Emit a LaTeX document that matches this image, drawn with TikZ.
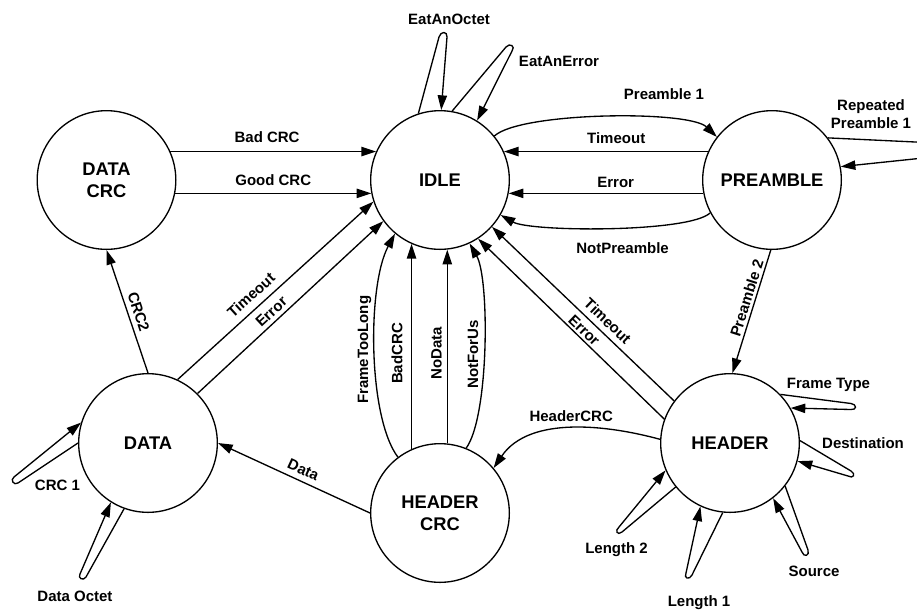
\documentclass[tikz,border=0pt]{standalone}
\usepackage{fontspec}
\setmainfont{Liberation Sans}
\usetikzlibrary{arrows.meta}
\tikzset{
  statenode/.style={draw, circle, line width=1pt, minimum size=104pt, inner sep=0pt, align=center, font=\bfseries\fontsize{13.75}{16.5}\selectfont},
  trans/.style={line width=1pt, -{Triangle[length=11pt,width=7pt]}},
  loopline/.style={trans, rounded corners=2.5pt},
  tlabel/.style={font=\bfseries\fontsize{11.25}{13.5}\selectfont, inner sep=1.5pt, align=center},
}
\begin{document}
\begin{tikzpicture}[x=0.75pt,y=0.75pt,yscale=-1,xscale=1]
\useasboundingbox (0,0) rectangle (917,612);
\clip (0,0) rectangle (917,612);

%Shape: Circle
\node[statenode] (datacrc) at (106.5,180) {DATA\\CRC};
%Shape: Circle
\node[statenode] (idle) at (440,180) {IDLE};
%Shape: Circle
\node[statenode] (preamble) at (772,180) {PREAMBLE};
%Shape: Circle
\node[statenode] (data) at (148,443) {DATA};
%Shape: Circle
\node[statenode] (headercrc) at (440,513) {HEADER\\CRC};
%Shape: Circle
\node[statenode] (header) at (730,443) {HEADER};

%Straight Lines
\draw[trans] (datacrc.24) -- node[tlabel, above=4.8pt, pos=0.47] (lbadcrc) {Bad CRC} (idle.156);
\draw[trans] (datacrc.-11) -- node[tlabel, above=3.5pt] (lgoodcrc) {Good CRC} (idle.191);
\draw[trans] (preamble.156) -- node[tlabel, above=4pt, pos=0.45] (ltimeoutp) {Timeout} (idle.24);
\draw[trans] (preamble.191) -- node[tlabel, above=2.2pt, pos=0.45] (lerrorp) {Error} (idle.-11);
%Curve Lines
\draw[trans] (idle.39) .. controls +(26,-24) and +(-28,-27) .. node[tlabel, above=13.5pt, pos=0.71] (lpreamble1) {Preamble 1} (preamble.142);
%Curve Lines
\draw[trans] (preamble.208) .. controls +(-21,20) and +(30,17) .. node[tlabel, below=9.5pt, pos=0.45] (lnotpreamble) {NotPreamble} (idle.-30);

%Straight Lines
\draw[trans] (preamble.-91) -- node[tlabel, rotate=72.4, anchor=south, inner sep=1.9pt, pos=0.41] (lpreamble2) {Preamble 2} (header.88);
\draw[trans] (header.143) -- node[tlabel, rotate=-43.6, anchor=south, inner sep=4.2pt, pos=0.41] (ltimeouth) {Timeout} (idle.-42);
\draw[trans] (header.160) -- node[tlabel, rotate=-43.6, anchor=south, inner sep=1.6pt, pos=0.46] (lerrorh) {Error} (idle.-57);
\draw[trans] (data.65) -- node[tlabel, rotate=42.2, anchor=south, inner sep=5.3pt, pos=0.42] (ltimeoutd) {Timeout} (idle.-162);
\draw[trans] (data.45) -- node[tlabel, rotate=42.8, anchor=south, inner sep=2.9pt, pos=0.433] (lerrord) {Error} (idle.-144);
\draw[trans] (data.north) -- node[tlabel, rotate=-71.7, anchor=south, inner sep=3.5pt, pos=0.47] (lcrc2) {CRC2} (datacrc.south);
\draw[trans] (headercrc.west) -- node[tlabel, rotate=-24.7, anchor=south, inner sep=4.2pt, pos=0.47] (ldata) {Data} (data.east);

%Curve Lines
\draw[trans] (headercrc.127) .. controls +(-30,-40) and +(-28,52) .. node[tlabel, rotate=90, anchor=south, inner sep=2.1pt, pos=0.5] (lframetoolong) {FrameTooLong} (idle.-130);
\draw[trans] (headercrc.114) -- node[tlabel, rotate=90, anchor=south, inner sep=6.2pt, pos=0.466] (lbadcrcv) {BadCRC} (idle.-114);
\draw[trans] (headercrc.84) -- node[tlabel, rotate=90, anchor=south, inner sep=3.75pt, pos=0.466] (lnodata) {NoData} (idle.-84);
\draw[trans] (headercrc.68) .. controls +(23,-32) and +(20,35) .. node[tlabel, rotate=90, anchor=south, inner sep=3.75pt, pos=0.47] (lnotforus) {NotForUs} (idle.-65);
%Curve Lines
\draw[trans] (header.177) .. controls +(-51,-14) and +(36,-53) .. node[tlabel, above=3.4pt, pos=0.5] (lheadercrc) {HeaderCRC} (headercrc.40);

%Loops
\draw[trans] (idle.108) -- (439,37) .. controls (440.6,31) and (447.5,31) .. (447,37) -- (idle.89);
\draw[trans] (idle.80) -- (506,47) .. controls (509.8,42.4) and (515.8,46.4) .. (512,51) -- (idle.58);
\draw[loopline] (preamble.37) -- (1000,146) -- (1000,150) -- (preamble.11);
\draw[trans] (data.west) -- (18,483) .. controls (13.9,485.8) and (9.8,479.8) .. (14,477) -- (data.163);
\draw[trans] (data.-110) -- (86,577) .. controls (83.4,581.3) and (77.4,578.3) .. (80,574) -- (data.-122);
\draw[trans] (header.44) -- (851,403.5) .. controls (857,404.2) and (857,410.2) .. (851,409.5) -- (header.30);
\draw[trans] (header.2) -- (851,471) .. controls (856.2,474.1) and (853.2,479.1) .. (848,476) -- (header.-15);
\draw[trans] (header.-38) -- (808,550) .. controls (809.9,555.7) and (803.9,557.7) .. (802,552) -- (header.-52);
\draw[trans] (header.-96) -- (692,575) .. controls (689.4,580.4) and (683.4,578.4) .. (686,573) -- (header.-115);
\draw[trans] (header.-141) -- (622,532) .. controls (617.4,535.8) and (614.4,530.8) .. (619,527) -- (header.-157);

% Text Node
\node[tlabel] (leatoctet) at (449,19) {EatAnOctet};
% Text Node
\node[tlabel] (leaterror) at (559,61) {EatAnError};
% Text Node
\node[tlabel] (lrepeated) at (871,114) {Repeated\\Preamble 1};
% Text Node
\node[tlabel] (lcrc1) at (57.5,485) {CRC 1};
% Text Node
\node[tlabel] (ldataoctet) at (75,596) {Data Octet};
% Text Node
\node[tlabel] (lframetype) at (828.5,385) {Frame Type};
% Text Node
\node[tlabel] (ldestination) at (863,443.5) {Destination};
% Text Node
\node[tlabel] (lsource) at (814,571.5) {Source};
% Text Node
\node[tlabel] (llength1) at (699,602.5) {Length 1};
% Text Node
\node[tlabel] (llength2) at (616.5,550) {Length 2};
\end{tikzpicture}
\end{document}
